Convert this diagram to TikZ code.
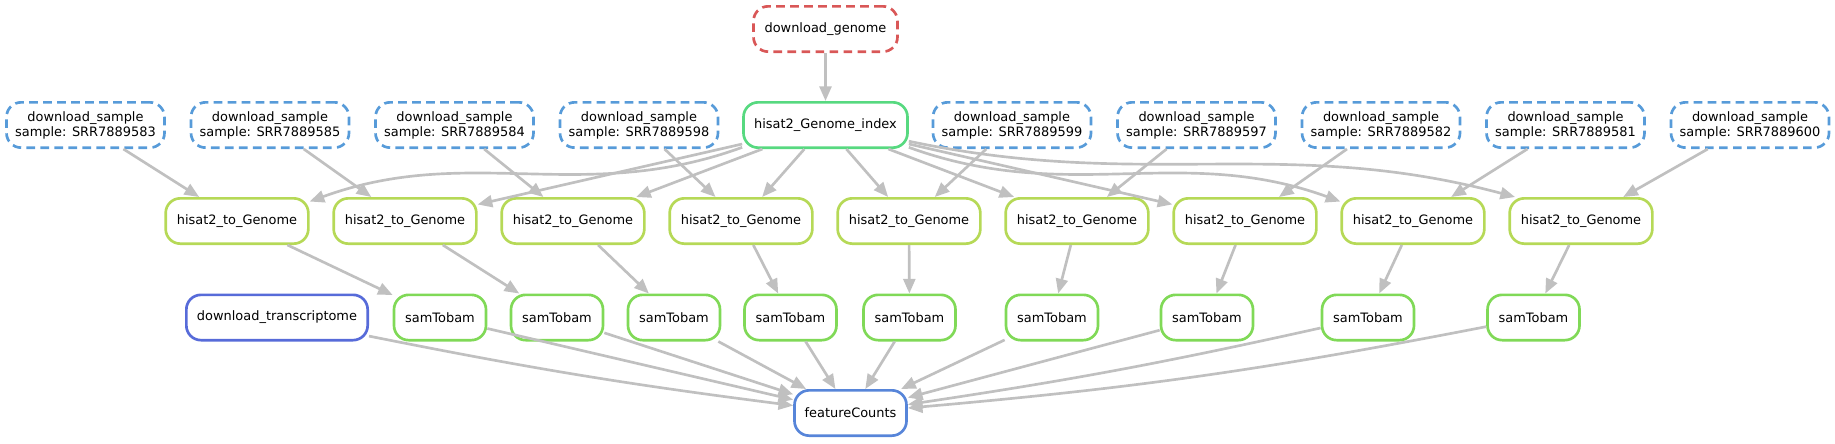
\documentclass[tikz,border=0pt]{standalone}
\usepackage{fontspec}
\setmainfont{DejaVu Sans}
\usetikzlibrary{arrows.meta}
\definecolor{dgred}{RGB}{217,87,87}
\definecolor{smpblue}{RGB}{87,155,217}
\definecolor{idxgreen}{RGB}{87,217,128}
\definecolor{hgreen}{RGB}{182,217,87}
\definecolor{sgreen}{RGB}{128,217,87}
\definecolor{trblue}{RGB}{87,107,217}
\definecolor{fcblue}{RGB}{87,133,217}
\definecolor{edgegray}{RGB}{192,192,192}
\begin{document}
\begin{tikzpicture}[x=0.75pt,y=-0.75pt,
  box/.style={draw, line width=2pt, rounded corners=11pt, minimum height=34pt,
    inner sep=0pt, align=center, font=\fontsize{9.7}{11.3}\selectfont},
  dsh/.style={dash pattern=on 6.5pt off 4pt},
  smp/.style={box, dsh, draw=smpblue, minimum width=118.5pt},
  hnode/.style={box, draw=hgreen, minimum width=107pt},
  snode/.style={box, draw=sgreen, minimum width=69pt},
  conn/.style={draw=edgegray, line width=2pt, -{Triangle[length=11pt,width=9pt]}}]
\useasboundingbox (0,0) rectangle (1835,443);
% rank 0
\node[box, dsh, draw=dgred, minimum width=108pt] (dg) at (825.5,29) {download\_genome};
% rank 1
\node[smp] (s1) at (85.5,125) {download\_sample\\sample: SRR7889583};
\node[smp] (s2) at (270,125) {download\_sample\\sample: SRR7889585};
\node[smp] (s3) at (454.5,125) {download\_sample\\sample: SRR7889584};
\node[smp] (s4) at (639,125) {download\_sample\\sample: SRR7889598};
\node[box, draw=idxgreen, minimum width=123pt] (idx) at (825.5,125) {hisat2\_Genome\_index};
\node[smp] (s5) at (1012,125) {download\_sample\\sample: SRR7889599};
\node[smp] (s6) at (1196.5,125) {download\_sample\\sample: SRR7889597};
\node[smp] (s7) at (1381,125) {download\_sample\\sample: SRR7889582};
\node[smp] (s8) at (1565.5,125) {download\_sample\\sample: SRR7889581};
\node[smp] (s9) at (1750,125) {download\_sample\\sample: SRR7889600};
% rank 2
\node[hnode] (h1) at (237,221) {hisat2\_to\_Genome};
\node[hnode] (h2) at (405,221) {hisat2\_to\_Genome};
\node[hnode] (h3) at (573,221) {hisat2\_to\_Genome};
\node[hnode] (h4) at (741,221) {hisat2\_to\_Genome};
\node[hnode] (h5) at (909,221) {hisat2\_to\_Genome};
\node[hnode] (h6) at (1077,221) {hisat2\_to\_Genome};
\node[hnode] (h7) at (1245,221) {hisat2\_to\_Genome};
\node[hnode] (h8) at (1413,221) {hisat2\_to\_Genome};
\node[hnode] (h9) at (1581,221) {hisat2\_to\_Genome};
% rank 3
\node[box, draw=trblue, minimum width=136pt] (tr) at (277,317.5) {download\_transcriptome};
\node[snode] (m1) at (440,317.5) {samTobam};
\node[snode] (m2) at (557,317.5) {samTobam};
\node[snode] (m3) at (674,317.5) {samTobam};
\node[snode] (m4) at (790.5,317.5) {samTobam};
\node[snode] (m5) at (909.5,317.5) {samTobam};
\node[snode] (m6) at (1052,317.5) {samTobam};
\node[snode] (m7) at (1207,317.5) {samTobam};
\node[snode] (m8) at (1368,317.5) {samTobam};
\node[snode] (m9) at (1533.5,317.5) {samTobam};
% rank 4
\node[box, draw=fcblue, minimum width=84pt] (fc) at (850.5,413) {featureCounts};
% edges
\draw[conn] (dg) -- (idx);
\foreach \i in {1,...,9} { \draw[conn] (s\i) -- (h\i); }
\draw[conn] (idx.195) to[out=200,in=20] (h1.15);
\draw[conn] (idx) -- (h2);
\draw[conn] (idx) -- (h3);
\draw[conn] (idx) -- (h4);
\draw[conn] (idx) -- (h5);
\draw[conn] (idx) -- (h6);
\draw[conn] (idx) -- (h7);
\draw[conn] (idx.-15) to[out=-20,in=160] (h8.165);
\draw[conn] (idx.-11) to[out=-12,in=165] (h9.160);
\foreach \i in {1,...,9} { \draw[conn] (h\i) -- (m\i); }
\draw[conn] (tr) to[bend right=2] (fc);
\draw[conn] (m1) -- (fc);
\foreach \i in {2,...,7} { \draw[conn] (m\i) -- (fc); }
\draw[conn] (m8) to[bend left=2] (fc);
\draw[conn] (m9) to[bend left=3] (fc);
\end{tikzpicture}
\end{document}
